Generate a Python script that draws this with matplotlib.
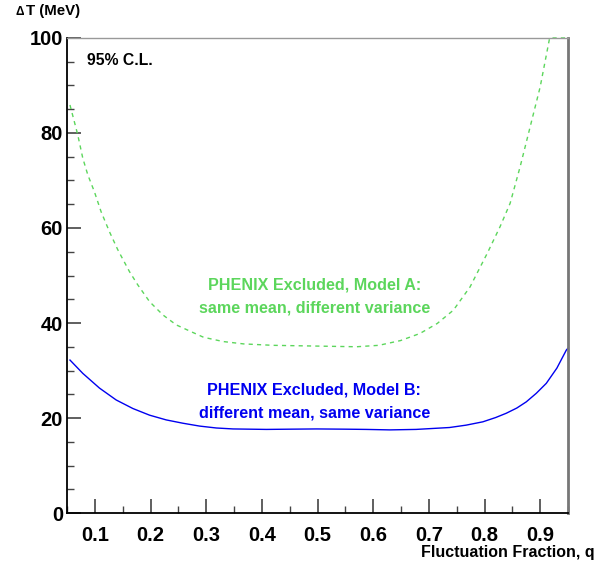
import numpy as np
import matplotlib
matplotlib.use("Agg")
from matplotlib import pyplot as plt
from matplotlib.ticker import MultipleLocator

plt.rcParams['font.family'] = ['Liberation Sans', 'DejaVu Sans']
plt.rcParams['font.weight'] = 'bold'

# Model A: same mean, different variance (dashed green)
qA = [0.055, 0.069, 0.078, 0.087, 0.099, 0.111, 0.126, 0.141, 0.162, 0.177,
      0.198, 0.222, 0.246, 0.276, 0.295, 0.33, 0.367, 0.42, 0.47, 0.52,
      0.57, 0.61, 0.649, 0.684, 0.715, 0.744, 0.774, 0.805, 0.828, 0.846,
      0.864, 0.882, 0.900, 0.917, 0.935, 0.95]
dtA = [85.9, 79.6, 74.7, 71.2, 67.6, 63.4, 59.2, 55.4, 50.8, 48.0,
       44.5, 41.7, 39.6, 38.0, 37.0, 36.1, 35.6, 35.3, 35.2, 35.1,
       35.0, 35.3, 36.3, 37.8, 39.9, 42.7, 47.6, 54.7, 60.3, 65.2,
       72.9, 81.3, 89.7, 100.0, 100.0, 100.0]

# Model B: different mean, same variance (solid blue)
qB = [0.055, 0.078, 0.108, 0.138, 0.168, 0.198, 0.228, 0.258, 0.288, 0.318,
      0.348, 0.408, 0.45, 0.498, 0.55, 0.587, 0.63, 0.677, 0.737, 0.767,
      0.797, 0.82, 0.839, 0.858, 0.875, 0.893, 0.911, 0.93, 0.947, 0.95]
dtB = [32.2, 29.4, 26.3, 23.8, 22.0, 20.6, 19.6, 18.9, 18.3, 17.9,
       17.7, 17.6, 17.65, 17.7, 17.65, 17.6, 17.5, 17.6, 18.0, 18.5,
       19.2, 20.1, 21.0, 22.1, 23.4, 25.2, 27.3, 30.5, 34.3, 34.7]

xticks = [0.1, 0.2, 0.3, 0.4, 0.5, 0.6, 0.7, 0.8, 0.9]
yticks = [0, 20, 40, 60, 80, 100]

green = '#5cd65c'
blue = '#0000f0'

fig = plt.figure(figsize=(6.12, 5.66), dpi=100)
ax = fig.add_axes([0.1098, 0.0936, 0.8183, 0.8393])

ax.plot(qA, dtA, color=green, lw=1.0, ls=(0, (3, 3)), clip_on=False)
ax.plot(qB, dtB, color=blue, lw=1.0)

ax.set_xlim(0.05, 0.95)
ax.set_ylim(0, 100)
ax.set_xticks(xticks)
ax.set_xticklabels(['%.1f' % v for v in xticks])
ax.set_yticks(yticks)
ax.xaxis.set_minor_locator(MultipleLocator(0.05))
ax.yaxis.set_minor_locator(MultipleLocator(5))

ax.tick_params(axis='both', which='major', direction='in', length=10,
               width=1.2, color='#444', labelsize=14.5)
ax.tick_params(axis='both', which='minor', direction='in', length=5,
               width=1.0, color='#444')
ax.tick_params(axis='x', which='major', pad=9)
ax.tick_params(axis='y', which='major', pad=3)
ax.tick_params(top=False, right=False, which='both')
for lab in ax.get_xticklabels() + ax.get_yticklabels():
    lab.set_fontweight('bold')

ax.spines['left'].set_color('black')
ax.spines['left'].set_linewidth(1.3)
ax.spines['bottom'].set_color('black')
ax.spines['bottom'].set_linewidth(1.3)
ax.spines['top'].set_color('#999')
ax.spines['top'].set_linewidth(1.0)
ax.spines['right'].set_color('#777')
ax.spines['right'].set_linewidth(2.0)

# axis titles in ROOT style
fig.text(16 / 612, 1 - 15 / 566, '\u0394', fontsize=8.5, fontweight='bold',
         ha='left', va='baseline')
fig.text(26 / 612, 1 - 15 / 566, 'T (MeV)', fontsize=10.8, fontweight='bold',
         ha='left', va='baseline')
fig.text(595 / 612, 1 - 557 / 566, 'Fluctuation Fraction, q', fontsize=11.5,
         fontweight='bold', ha='right', va='baseline')

ax.text(0.0856, 95.2, '95% C.L.', fontsize=11.3, fontweight='bold',
        ha='left', va='center')

ax.text(0.494, 48.0, 'PHENIX Excluded, Model A:', color=green, fontsize=11.6,
        fontweight='bold', ha='center', va='center')
ax.text(0.494, 43.2, 'same mean, different variance', color=green,
        fontsize=11.6, fontweight='bold', ha='center', va='center')
ax.text(0.494, 25.9, 'PHENIX Excluded, Model B:', color=blue, fontsize=11.6,
        fontweight='bold', ha='center', va='center')
ax.text(0.494, 21.05, 'different mean, same variance', color=blue,
        fontsize=11.6, fontweight='bold', ha='center', va='center')

fig.savefig('out.png', dpi=100)
